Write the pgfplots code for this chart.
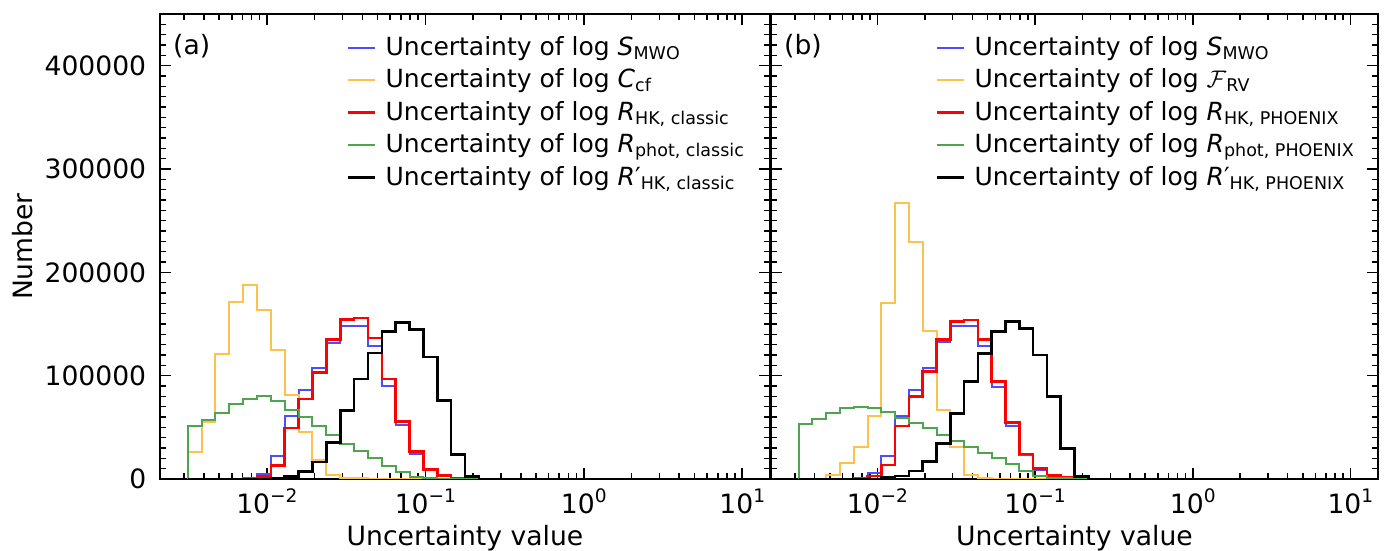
\documentclass[border=0pt]{standalone}
\usepackage{fontspec}
\setmainfont{DejaVu Sans}
\usepackage{pgfplots}
\pgfplotsset{compat=1.18}
\usepackage{pgfplotstable}

\definecolor{cblue}{RGB}{77,77,255}
\definecolor{corange}{RGB}{255,192,77}
\definecolor{cgreen}{RGB}{77,166,77}

\newcommand\lsub[1]{\raisebox{-2pt}{\fontsize{8.75}{9}\selectfont #1}}
\newcommand\tsup[1]{\raisebox{5pt}{\fontsize{9.3}{9.3}\selectfont #1}}

% bin edges (log-spaced) and counts; a* = panel (a), b* = panel (b)
% B = log S_MWO, O = log C_cf / log F_RV, R = log R_HK, G = log R_phot, K = log R'_HK
\pgfplotstableread{
x aB aO aR aG aK bB bO bR bG bK
0.0031623 0 0 0 0 0 0 0 0 0 0
0.0031623 0 26100 0 51000 0 0 0 0 53200 0
0.0038686 0 55200 0 56800 0 0 0 0 58100 0
0.0047315 0 121000 0 63900 0 0 3900 0 63600 0
0.0057876 0 171300 0 72600 0 0 15200 0 68400 0
0.0070795 1000 187400 0 77700 0 1300 31300 0 70000 0
0.0086596 5200 163200 2600 80000 0 5500 61300 2900 69000 0
0.0105925 21900 125200 12900 75200 600 22300 170000 13500 65200 1300
0.0129569 60600 81000 49400 66500 2600 61000 266800 51300 58700 2900
0.0158489 85800 45200 77400 60000 7400 86100 229700 79700 53900 7700
0.0193865 107400 18100 103200 51000 16500 107100 143200 103900 49000 16800
0.0237137 131600 3500 134800 42300 35500 132900 66800 135200 42600 34500
0.0290068 148400 1300 154200 33900 66100 148100 31300 152300 37100 63600
0.0354813 148400 500 155800 26800 96800 148100 3900 153900 31300 94200
0.0434010 128400 0 136500 20300 121900 128700 1300 135200 24800 121600
0.0530884 89700 0 96800 12900 142900 89400 0 94200 20000 142600
0.0649382 52600 0 55800 6500 151600 51300 0 54500 14500 152300
0.0794328 24500 0 26800 1600 144500 23200 0 24200 8100 145800
0.0971628 9000 0 9000 600 118100 8700 0 10300 2900 120000
0.1188502 3500 0 3500 0 75800 3200 0 3500 1300 79700
0.1453784 1000 0 1000 0 23500 1000 0 1300 600 29700
0.1778279 300 0 300 0 2600 0 0 0 0 2300
0.2175204 0 0 0 0 0 0 0 0 0 0
10 0 0 0 0 0 0 0 0 0 0
}\hist

\begin{document}
\begin{tikzpicture}
\begin{axis}[scale only axis, width=305pt, height=232.5pt,
    at={(0pt,0pt)}, anchor=south west,
    xmode=log, xmin=0.0021135, xmax=14.962,
    ymin=0, ymax=450000,
    xtick={0.01,0.1,1,10},
    xticklabels={10\tsup{−2},10\tsup{−1},10\tsup{0},10\tsup{1}},
    minor xtick={0.003,0.004,0.005,0.006,0.007,0.008,0.009,0.02,0.03,0.04,0.05,0.06,0.07,0.08,0.09,0.2,0.3,0.4,0.5,0.6,0.7,0.8,0.9,2,3,4,5,6,7,8,9},
    ytick={0,100000,200000,300000,400000},
    yticklabels={0,100000,200000,300000,400000},
    minor ytick={10000,20000,30000,40000,50000,60000,70000,80000,90000,110000,120000,130000,140000,150000,160000,170000,180000,190000,210000,220000,230000,240000,250000,260000,270000,280000,290000,310000,320000,330000,340000,350000,360000,370000,380000,390000,410000,420000,430000,440000},
    scaled y ticks=false,
    tick align=inside,
    xtick pos=both, ytick pos=both,
    major tick length=5.5pt, minor tick length=3pt,
    tick style={black, line width=0.8pt},
    axis line style={line width=0.8pt},
    xticklabel style={anchor=base, inner sep=0pt, yshift=-17pt, font=\fontsize{13.3}{16}\selectfont},
    yticklabel style={anchor=east, inner sep=0pt, xshift=-6.7pt, font=\fontsize{13.3}{16}\selectfont},
    xlabel={Uncertainty value},
    every axis x label/.style={at={(axis description cs:0.5,0)}, anchor=base, yshift=-33.5pt, font=\fontsize{13.3}{16}\selectfont},
    ylabel={Number},
    every axis y label/.style={at={(axis description cs:-0.2251,0.5)}, rotate=90, anchor=center, font=\fontsize{13.3}{16}\selectfont},
    legend cell align=left,
    legend style={draw=none, fill=none, inner sep=0pt, outer sep=0pt, anchor=north west,
      at={(rel axis cs:0.3066,0.9548)},
      font=\fontsize{12.5}{15}\selectfont, row sep=3.55pt, column sep=4.5pt,
      cells={anchor=west}, nodes={inner sep=0pt, text height=10pt, text depth=2.7pt}},
    legend image code/.code={\draw[#1] (0pt,0pt) -- (13.5pt,0pt);},
  ]
\addplot[cblue, const plot mark left, no marks, line width=1pt] table[x=x, y=aB]{\hist};
\addlegendentry{Uncertainty of log \textit{S}\lsub{MWO}}
\addplot[corange, const plot mark left, no marks, line width=1pt] table[x=x, y=aO]{\hist};
\addlegendentry{Uncertainty of log \textit{C}\lsub{cf}}
\addplot[red, const plot mark left, no marks, line width=1.3pt] table[x=x, y=aR]{\hist};
\addlegendentry{Uncertainty of log \textit{R}\lsub{HK, classic}}
\addplot[cgreen, const plot mark left, no marks, line width=1pt] table[x=x, y=aG]{\hist};
\addlegendentry{Uncertainty of log \textit{R}\lsub{phot, classic}}
\addplot[black, const plot mark left, no marks, line width=1.3pt] table[x=x, y=aK]{\hist};
\addlegendentry{Uncertainty of log \textit{R}′\lsub{HK, classic}}
\node[anchor=west, inner sep=0pt, font=\fontsize{13.3}{16}\selectfont] at (rel axis cs:0.021,0.931) {(a)};
\end{axis}
\begin{axis}[scale only axis, width=303.5pt, height=232.5pt,
    at={(305.5pt,0pt)}, anchor=south west,
    xmode=log, xmin=0.0021135, xmax=14.962,
    ymin=0, ymax=450000,
    xtick={0.01,0.1,1,10},
    xticklabels={10\tsup{−2},10\tsup{−1},10\tsup{0},10\tsup{1}},
    minor xtick={0.003,0.004,0.005,0.006,0.007,0.008,0.009,0.02,0.03,0.04,0.05,0.06,0.07,0.08,0.09,0.2,0.3,0.4,0.5,0.6,0.7,0.8,0.9,2,3,4,5,6,7,8,9},
    ytick={0,100000,200000,300000,400000},
    yticklabels={},
    minor ytick={10000,20000,30000,40000,50000,60000,70000,80000,90000,110000,120000,130000,140000,150000,160000,170000,180000,190000,210000,220000,230000,240000,250000,260000,270000,280000,290000,310000,320000,330000,340000,350000,360000,370000,380000,390000,410000,420000,430000,440000},
    tick align=inside,
    xtick pos=both, ytick pos=both,
    major tick length=5.5pt, minor tick length=3pt,
    tick style={black, line width=0.8pt},
    axis line style={line width=0.8pt},
    xticklabel style={anchor=base, inner sep=0pt, yshift=-17pt, font=\fontsize{13.3}{16}\selectfont},
    xlabel={Uncertainty value},
    every axis x label/.style={at={(axis description cs:0.5,0)}, anchor=base, yshift=-33.5pt, font=\fontsize{13.3}{16}\selectfont},
    legend cell align=left,
    legend style={draw=none, fill=none, inner sep=0pt, outer sep=0pt, anchor=north west,
      at={(rel axis cs:0.2718,0.9548)},
      font=\fontsize{12.5}{15}\selectfont, row sep=3.55pt, column sep=4.5pt,
      cells={anchor=west}, nodes={inner sep=0pt, text height=10pt, text depth=2.7pt}},
    legend image code/.code={\draw[#1] (0pt,0pt) -- (13.5pt,0pt);},
  ]
\addplot[cblue, const plot mark left, no marks, line width=1pt] table[x=x, y=bB]{\hist};
\addlegendentry{Uncertainty of log \textit{S}\lsub{MWO}}
\addplot[corange, const plot mark left, no marks, line width=1pt] table[x=x, y=bO]{\hist};
\addlegendentry{Uncertainty of log $\mathcal{F}$\lsub{RV}}
\addplot[red, const plot mark left, no marks, line width=1.3pt] table[x=x, y=bR]{\hist};
\addlegendentry{Uncertainty of log \textit{R}\lsub{HK, PHOENIX}}
\addplot[cgreen, const plot mark left, no marks, line width=1pt] table[x=x, y=bG]{\hist};
\addlegendentry{Uncertainty of log \textit{R}\lsub{phot, PHOENIX}}
\addplot[black, const plot mark left, no marks, line width=1.3pt] table[x=x, y=bK]{\hist};
\addlegendentry{Uncertainty of log \textit{R}′\lsub{HK, PHOENIX}}
\node[anchor=west, inner sep=0pt, font=\fontsize{13.3}{16}\selectfont] at (rel axis cs:0.021,0.931) {(b)};
\end{axis}
\pgfresetboundingbox
\path (-80pt,-36pt) rectangle (616pt,239.5pt);
\end{tikzpicture}
\end{document}
